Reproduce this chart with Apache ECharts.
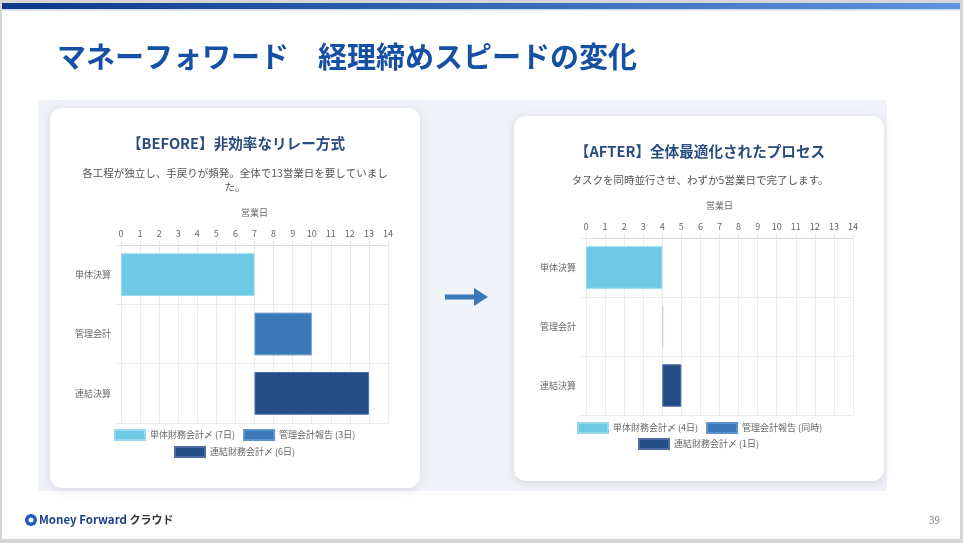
<!DOCTYPE html>
<html>
<head>
<meta charset="utf-8">
<script src="https://cdn.jsdelivr.net/npm/echarts@6/dist/echarts.min.js"></script>
<style>
  html, body { margin: 0; padding: 0; background: #d6d6d6; }
  #slide { width: 963px; height: 543px; }
</style>
</head>
<body>
<div id="slide"></div>
<script>
// 工程(行)
var categories = ['単体決算', '管理会計', '連結決算'];

// BEFORE: 開始日と日数
var beforeStart = [0, 7, 7];
var beforeDays = [7, 3, 6];
var beforeNames = ['単体財務会計〆 (7日)', '管理会計報告 (3日)', '連結財務会計〆 (6日)'];

// AFTER: 開始日と日数
var afterStart = [0, 4, 4];
var afterDays = [4, 0, 1];
var afterNames = ['単体財務会計〆 (4日)', '管理会計報告 (同時)', '連結財務会計〆 (1日)'];

var barColors = ['#6ec9e4', '#3b78b7', '#254e89'];
var barBorders = ['#94d8ee', '#5d93c9', '#4a6fa5'];

var FONT = '"Noto Sans CJK JP", "Noto Sans", sans-serif';

function xAxisOf(gridIndex) {
    return {
        gridIndex: gridIndex,
        type: 'value',
        position: 'top',
        min: 0,
        max: 14,
        interval: 1,
        name: '営業日',
        nameLocation: 'middle',
        nameGap: 28,
        nameTextStyle: { fontSize: 9, color: '#666', fontFamily: FONT },
        axisLine: { show: true, lineStyle: { color: '#dcdcdc' } },
        axisTick: { show: true, length: 4, lineStyle: { color: '#e6e6e6' } },
        axisLabel: { fontSize: 9, color: '#666', margin: 7, fontFamily: FONT },
        splitLine: { show: true, lineStyle: { color: '#ebebeb' } }
    };
}

function yAxisOf(gridIndex) {
    return {
        gridIndex: gridIndex,
        type: 'category',
        inverse: true,
        data: categories,
        axisLine: { show: true, lineStyle: { color: '#ebebeb' } },
        axisTick: { show: true, length: 6, lineStyle: { color: '#ebebeb' } },
        axisLabel: { fontSize: 9, color: '#666', margin: 10, fontFamily: FONT },
        splitLine: { show: true, lineStyle: { color: '#ebebeb' } }
    };
}

function seriesOf(gridIndex, start, days, names) {
    var stack = 'g' + gridIndex;
    var list = [{
        name: 'base' + gridIndex,
        type: 'bar',
        xAxisIndex: gridIndex,
        yAxisIndex: gridIndex,
        stack: stack,
        data: start,
        itemStyle: { color: 'transparent' },
        barCategoryGap: '28%',
        silent: true
    }];
    for (var i = 0; i < days.length; i++) {
        var data = categories.map(function (c, k) {
            if (k !== i) return '-';
            if (days[k] === 0) {
                // 同時並行: 幅ゼロのバーは細線で表示
                return { value: days[k], itemStyle: { color: '#b3cbe6', borderWidth: 0 } };
            }
            return days[k];
        });
        list.push({
            name: names[i],
            type: 'bar',
            xAxisIndex: gridIndex,
            yAxisIndex: gridIndex,
            stack: stack,
            data: data,
            barMinHeight: days[i] === 0 ? 1 : 0,
            barCategoryGap: '28%',
            itemStyle: { color: barColors[i], borderColor: barBorders[i], borderWidth: 1 }
        });
    }
    return list;
}

function legendOf(names, left, top) {
    return {
        data: names,
        left: left,
        top: top,
        orient: 'horizontal',
        icon: 'rect',
        itemWidth: 30,
        itemHeight: 10,
        itemGap: 8,
        padding: 0,
        selectedMode: false,
        textStyle: { fontSize: 9, color: '#666', fontFamily: FONT }
    };
}

function card(x, y, w, h) {
    return {
        type: 'rect',
        shape: { x: x, y: y, width: w, height: h, r: 12 },
        style: { fill: '#fff', shadowBlur: 8, shadowOffsetY: 2, shadowColor: 'rgba(0,0,0,0.12)' },
        z: -5
    };
}

function text(x, y, str, size, color, weight, align) {
    return {
        type: 'text',
        x: x,
        y: y,
        style: {
            text: str,
            fontSize: size,
            fill: color,
            fontWeight: weight || 'normal',
            fontFamily: FONT,
            align: align || 'center',
            verticalAlign: 'middle',
            lineHeight: size * 1.4
        },
        z: 1
    };
}

var myChart = echarts.init(document.getElementById('slide'));
var option = {
    animation: false,
    backgroundColor: '#d6d6d6',
    graphic: [
        // スライド本体
        { type: 'rect', shape: { x: 2, y: 3, width: 958, height: 536 }, style: { fill: '#fff' }, z: -10 },
        {
            type: 'rect', shape: { x: 2, y: 3, width: 958, height: 6 }, z: -9,
            style: {
                fill: new echarts.graphic.LinearGradient(0, 0, 1, 0, [
                    { offset: 0, color: '#0b3a8c' },
                    { offset: 1, color: '#6192e0' }
                ])
            }
        },
        { type: 'rect', shape: { x: 2, y: 9, width: 958, height: 1.5 }, style: { fill: '#c9daf3' }, z: -9 },
        text(57, 57, 'マネーフォワード　経理締めスピードの変化', 29, '#1650a5', 'bold', 'left'),
        { type: 'rect', shape: { x: 38, y: 100, width: 849, height: 391 }, style: { fill: '#f0f3f8' }, z: -8 },
        card(50, 108, 370, 380),
        card(514, 116, 370, 365),
        // BEFORE 見出し
        text(236, 143, '【BEFORE】非効率なリレー方式', 14.6, '#2b4c7e', 'bold'),
        text(235, 180, '各工程が独立し、手戻りが頻発。全体で13営業日を要していまし\nた。', 10.5, '#555'),
        // AFTER 見出し
        text(700, 151, '【AFTER】全体最適化されたプロセス', 14.6, '#2b4c7e', 'bold'),
        text(700, 180, 'タスクを同時並行させ、わずか5営業日で完了します。', 10.5, '#555'),
        // 矢印
        { type: 'line', shape: { x1: 445, y1: 297, x2: 478, y2: 297 }, style: { stroke: '#3a78b8', lineWidth: 5 }, z: 1 },
        { type: 'polygon', shape: { points: [[474, 288], [488, 297], [474, 306]] }, style: { fill: '#3a78b8' }, z: 1 },
        // フッター
        { type: 'circle', shape: { cx: 31, cy: 520, r: 6 }, style: { fill: '#1f5cb8' }, z: 1 },
        { type: 'circle', shape: { cx: 31, cy: 520, r: 2.5 }, style: { fill: '#fff' }, z: 2 },
        {
            type: 'text', x: 39, y: 520, z: 1,
            style: {
                text: '{a|Money Forward}{b| クラウド}',
                verticalAlign: 'middle',
                rich: {
                    a: { fontSize: 11.5, fontWeight: 'bold', fill: '#1a3e8c', fontFamily: FONT },
                    b: { fontSize: 11, fontWeight: 'bold', fill: '#333', fontFamily: FONT }
                }
            }
        },
        text(940, 520, '39', 10, '#888', 'normal', 'right')
    ],
    legend: [
        legendOf(beforeNames.slice(0, 2), 114, 429),
        legendOf(beforeNames.slice(2), 174, 446),
        legendOf(afterNames.slice(0, 2), 577, 422),
        legendOf(afterNames.slice(2), 638, 438)
    ],
    grid: [
        { left: 121, top: 245, width: 267, height: 178 },
        { left: 586, top: 238, width: 267, height: 177 }
    ],
    xAxis: [xAxisOf(0), xAxisOf(1)],
    yAxis: [yAxisOf(0), yAxisOf(1)],
    series: seriesOf(0, beforeStart, beforeDays, beforeNames)
        .concat(seriesOf(1, afterStart, afterDays, afterNames))
};
myChart.setOption(option);
</script>
</body>
</html>
